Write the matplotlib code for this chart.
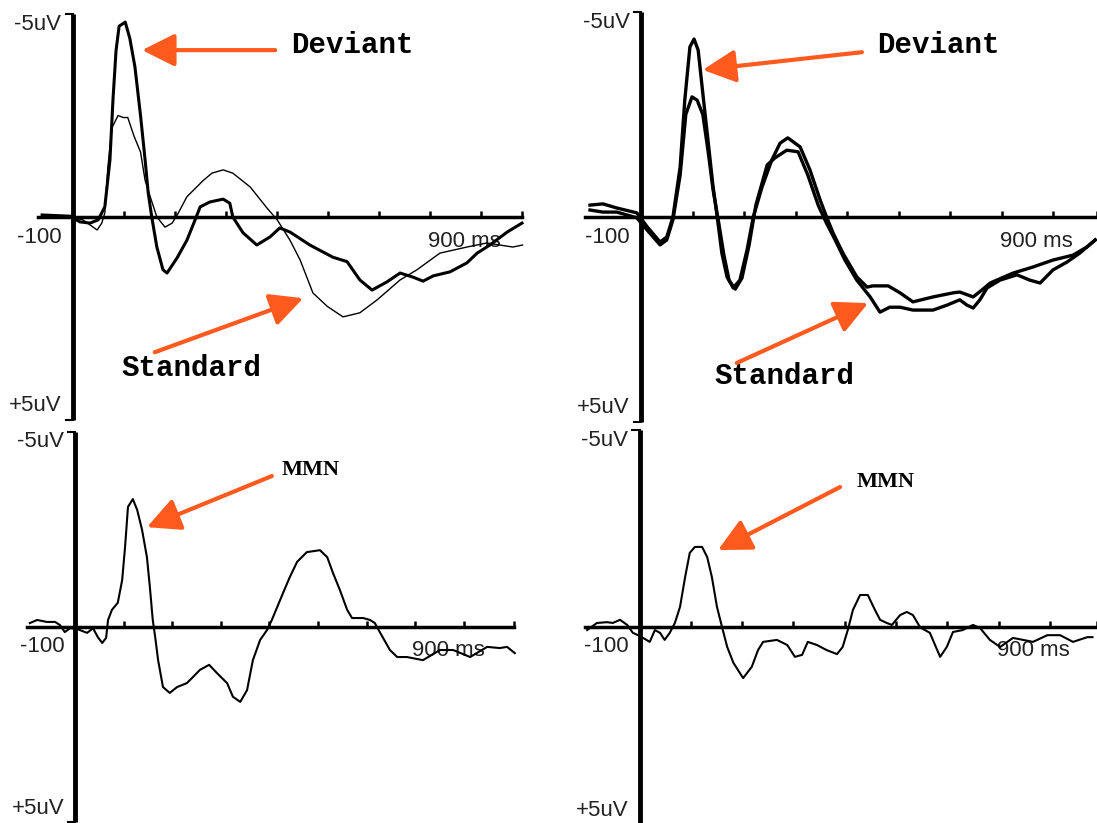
# ERP figure: deviant vs standard (top) and MMN difference waves (bottom)
import numpy as np
import matplotlib.pyplot as plt

# ---- data (time in ms, amplitude in uV, negative up) ----
# top left
tl_dev_t = [-60, -5, 14, 34, 50, 63, 73, 79, 85, 91, 103, 112, 122, 133, 142, 148, 155,
            165, 177, 185, 205, 224, 240, 250, 269, 295, 308, 314, 334, 361, 387, 406,
            426, 465, 510, 538, 563, 587, 616, 642, 667, 687, 707, 740, 773, 793, 818,
            852, 881]
tl_dev_v = [-0.05, -0.02, 0.12, 0.15, 0.07, -0.25, -1.4, -2.9, -4.1, -4.7, -4.8, -4.4,
            -3.7, -2.5, -1.4, -0.6, 0.0, 0.74, 1.3, 1.38, 1.0, 0.57, 0.07, -0.25, -0.37,
            -0.44, -0.34, 0.0, 0.39, 0.69, 0.49, 0.27, 0.37, 0.69, 0.99, 1.1, 1.55, 1.8,
            1.6, 1.38, 1.48, 1.58, 1.45, 1.35, 1.13, 0.89, 0.69, 0.37, 0.15]
tl_std_t = [-60, -5, 20, 48, 57, 63, 69, 77, 89, 99, 108, 120, 133, 142, 152, 165, 181,
            195, 205, 224, 256, 273, 295, 314, 348, 381, 401, 426, 446, 471, 499, 530,
            563, 597, 642, 675, 720, 773, 812, 863, 882]
tl_std_v = [-0.05, 0.0, 0.07, 0.32, 0.15, -0.1, -1.23, -2.2, -2.5, -2.45, -2.45, -2.0,
            -1.6, -0.9, -0.5, 0.0, 0.25, 0.15, -0.05, -0.5, -0.9, -1.08, -1.16, -1.08,
            -0.74, -0.22, 0.07, 0.57, 1.06, 1.87, 2.2, 2.46, 2.36, 2.04, 1.55, 1.3,
            0.89, 0.74, 0.64, 0.74, 0.69]

# top right
tr_dev_t = [-99, -74, -47, -8, 12, 37, 50, 62, 76, 85, 95, 103, 111, 120, 130, 140, 148,
            157, 167, 179, 192, 206, 218, 235, 254, 270, 285, 309, 328, 348, 361, 373,
            392, 419, 439, 450, 480, 503, 528, 567, 606, 619, 645, 662, 678, 722, 761,
            800, 839, 866, 882]
tr_dev_v = [-0.29, -0.32, -0.22, -0.1, 0.24, 0.61, 0.49, 0.0, -1.22, -2.85, -4.15,
            -4.34, -4.07, -3.02, -1.88, -0.73, 0.0, 0.88, 1.46, 1.73, 1.54, 0.8, 0.0,
            -0.73, -1.39, -1.8, -1.93, -1.71, -1.15, -0.41, 0.02, 0.39, 0.88, 1.46,
            1.71, 1.68, 1.68, 1.85, 2.07, 1.95, 1.85, 1.83, 1.95, 1.78, 1.61, 1.37,
            1.22, 1.05, 0.93, 0.73, 0.56]
tr_std_t = [-99, -74, -47, -8, 12, 37, 50, 62, 76, 87, 99, 109, 120, 130, 140, 150, 161,
            171, 183, 196, 210, 223, 245, 260, 283, 305, 324, 344, 359, 377, 396, 419,
            445, 464, 483, 503, 528, 567, 594, 619, 633, 645, 658, 672, 697, 730, 755,
            775, 800, 827, 852, 882]
tr_std_v = [-0.17, -0.12, -0.12, 0.02, 0.32, 0.68, 0.56, 0.07, -1.02, -2.5, -2.93,
            -2.85, -2.5, -1.63, -0.66, 0.07, 0.93, 1.54, 1.76, 1.49, 0.68, -0.29,
            -1.27, -1.44, -1.63, -1.59, -1.02, -0.29, 0.12, 0.56, 1.05, 1.54, 1.95,
            2.32, 2.2, 2.2, 2.27, 2.27, 2.15, 2.02, 2.15, 2.22, 2.02, 1.73, 1.54, 1.41,
            1.54, 1.61, 1.29, 1.1, 0.88, 0.56]

# bottom left (MMN)
bl_mmn_t = [-93, -78, -58, -41, -31, -21, -10, 4, 25, 37, 47, 56, 64, 68, 76, 88, 97,
            103, 109, 119, 128, 138, 148, 154, 160, 165, 171, 181, 195, 210, 230, 243,
            257, 276, 292, 313, 325, 340, 354, 366, 381, 395, 405, 416, 428, 442, 457,
            477, 504, 519, 531, 545, 560, 570, 593, 607, 617, 628, 648, 663, 683, 716,
            751, 778, 813, 848, 874, 889, 905]
bl_mmn_v = [-0.1, -0.18, -0.13, -0.13, -0.05, 0.13, 0.03, 0.05, 0.15, 0.03, 0.26, 0.41,
            0.28, -0.18, -0.44, -0.62, -1.2, -2.05, -3.08, -3.28, -3.0, -2.49, -1.79,
            -1.03, -0.18, 0.26, 0.85, 1.54, 1.69, 1.54, 1.44, 1.28, 1.1, 0.97, 1.18,
            1.44, 1.79, 1.92, 1.62, 0.85, 0.33, 0.08, -0.18, -0.51, -0.87, -1.28, -1.67,
            -1.92, -1.97, -1.79, -1.38, -0.95, -0.44, -0.23, -0.23, -0.18, -0.1, 0.15,
            0.59, 0.77, 0.77, 0.85, 0.59, 0.59, 0.77, 0.51, 0.54, 0.51, 0.67]

# bottom right (MMN)
br_mmn_t = [-102, -83, -63, -52, -38, -24, -13, -3, 7, 20, 30, 40, 49, 59, 69, 79, 89,
            98, 108, 122, 132, 141, 151, 161, 171, 183, 202, 219, 231, 241, 268, 288,
            303, 317, 328, 346, 365, 385, 396, 406, 416, 430, 445, 459, 469, 482, 492,
            508, 521, 533, 547, 566, 586, 599, 611, 630, 650, 664, 683, 703, 728, 748,
            767, 795, 820, 845, 873, 883]
br_mmn_v = [0.07, -0.11, -0.13, -0.11, -0.19, -0.06, 0.14, 0.2, 0.27, 0.37, 0.07, 0.14,
            0.32, 0.14, -0.11, -0.52, -1.28, -1.89, -2.04, -2.04, -1.78, -1.28, -0.52,
            0.0, 0.5, 0.9, 1.29, 1.0, 0.58, 0.37, 0.32, 0.45, 0.75, 0.7, 0.37, 0.45,
            0.58, 0.68, 0.5, 0.07, -0.44, -0.82, -0.82, -0.44, -0.19, -0.11, -0.06,
            -0.31, -0.39, -0.31, 0.0, 0.14, 0.75, 0.5, 0.12, 0.07, -0.06, 0.02, 0.32,
            0.5, 0.27, 0.32, 0.37, 0.2, 0.2, 0.37, 0.25, 0.25]

tick_times = [100, 200, 300, 400, 500, 600, 700, 800]

# ---- layout: pixel box of each panel and where 0 ms / 0 uV sits ----
W, H = 1097, 823
ORANGE = '#ff5a1e'

panels = {
    'tl': dict(box=(0, 548, 0, 423), x0=72.7, ppm=0.51, y0=217, ppu=40.6, axis=(-68, 881)),
    'tr': dict(box=(548, 1097, 0, 423), x0=641, ppm=0.515, y0=217, ppu=41, axis=(-109, 885)),
    'bl': dict(box=(0, 548, 423, 823), x0=75, ppm=0.486, y0=627, ppu=39, axis=(-99, 903)),
    'br': dict(box=(548, 1097, 423, 823), x0=639.5, ppm=0.513, y0=627.3, ppu=39.4, axis=(-107, 892)),
}

fig = plt.figure(figsize=(W / 100, H / 100), dpi=100)
fig.patch.set_facecolor('white')

axes = {}
for key, p in panels.items():
    l, r, t, b = p['box']
    ax = fig.add_axes([l / W, 1 - b / H, (r - l) / W, (b - t) / H])
    ax.set_xlim((l - p['x0']) / p['ppm'], (r - p['x0']) / p['ppm'])
    ax.set_ylim((b - p['y0']) / p['ppu'], (t - p['y0']) / p['ppu'])
    ax.axis('off')

    # axes drawn like the original scan
    ax.plot([0, 0], [-5, 5], color='black', lw=3.5, solid_capstyle='butt')
    ax.plot([-14, 0], [-5, -5], color='black', lw=1.5)
    ax.plot([-14, 0], [5, 5], color='black', lw=1.5)
    ax.plot(p['axis'], [0, 0], color='black', lw=2.5)
    ax.vlines(tick_times + [p['axis'][1]], -0.15, 0, color='black', lw=1.8)

    lab = dict(family='Liberation Sans', fontsize=16, color='#222222')
    ax.text(-22, -4.75, '-5uV', ha='right', va='center', **lab)
    ax.text(-22, 4.65, '+5uV', ha='right', va='center', **lab)
    ax.text(-22, 0.5, '-100', ha='right', va='center', **lab)
    ax.text(768, 0.6, '900 ms', ha='center', va='center', zorder=1, **lab)
    axes[key] = ax

# traces
axes['tl'].plot(tl_std_t, tl_std_v, color='black', lw=1.0)
axes['tl'].plot(tl_dev_t, tl_dev_v, color='black', lw=2.2)
axes['tr'].plot(tr_std_t, tr_std_v, color='black', lw=2.4)
axes['tr'].plot(tr_dev_t, tr_dev_v, color='black', lw=2.4)
axes['bl'].plot(bl_mmn_t, bl_mmn_v, color='black', lw=1.5)
axes['br'].plot(br_mmn_t, br_mmn_v, color='black', lw=1.5)

# labels with arrows
mono = dict(family='Liberation Mono', fontsize=21, fontweight='bold', ha='center', va='center')
serif = dict(family='Liberation Serif', fontsize=16, fontweight='bold', ha='center', va='center')
arrow = dict(arrowstyle='-|>', color=ORANGE, lw=3, mutation_scale=50, shrinkA=0, shrinkB=0)

axes['tl'].text(548, -4.24, 'Deviant', **mono)
axes['tl'].annotate('', xy=(136, -4.11), xytext=(397, -4.11), arrowprops=arrow)
axes['tl'].text(232, 3.72, 'Standard', **mono)
axes['tl'].annotate('', xy=(452, 2.0), xytext=(161, 3.33), arrowprops=arrow)

axes['tr'].text(577, -4.2, 'Deviant', **mono)
axes['tr'].annotate('', xy=(120, -3.59), xytext=(429, -4.02), arrowprops=arrow)
axes['tr'].text(278, 3.88, 'Standard', **mono)
axes['tr'].annotate('', xy=(441, 2.1), xytext=(186, 3.56), arrowprops=arrow)

axes['bl'].text(484, -4.03, 'MMN', **serif)
axes['bl'].annotate('', xy=(148, -2.56), xytext=(405, -3.87), arrowprops=arrow)
axes['br'].text(480, -3.69, 'MMN', **serif)
axes['br'].annotate('', xy=(153, -1.96), xytext=(391, -3.56), arrowprops=arrow)

plt.savefig('out.png', dpi=100)
